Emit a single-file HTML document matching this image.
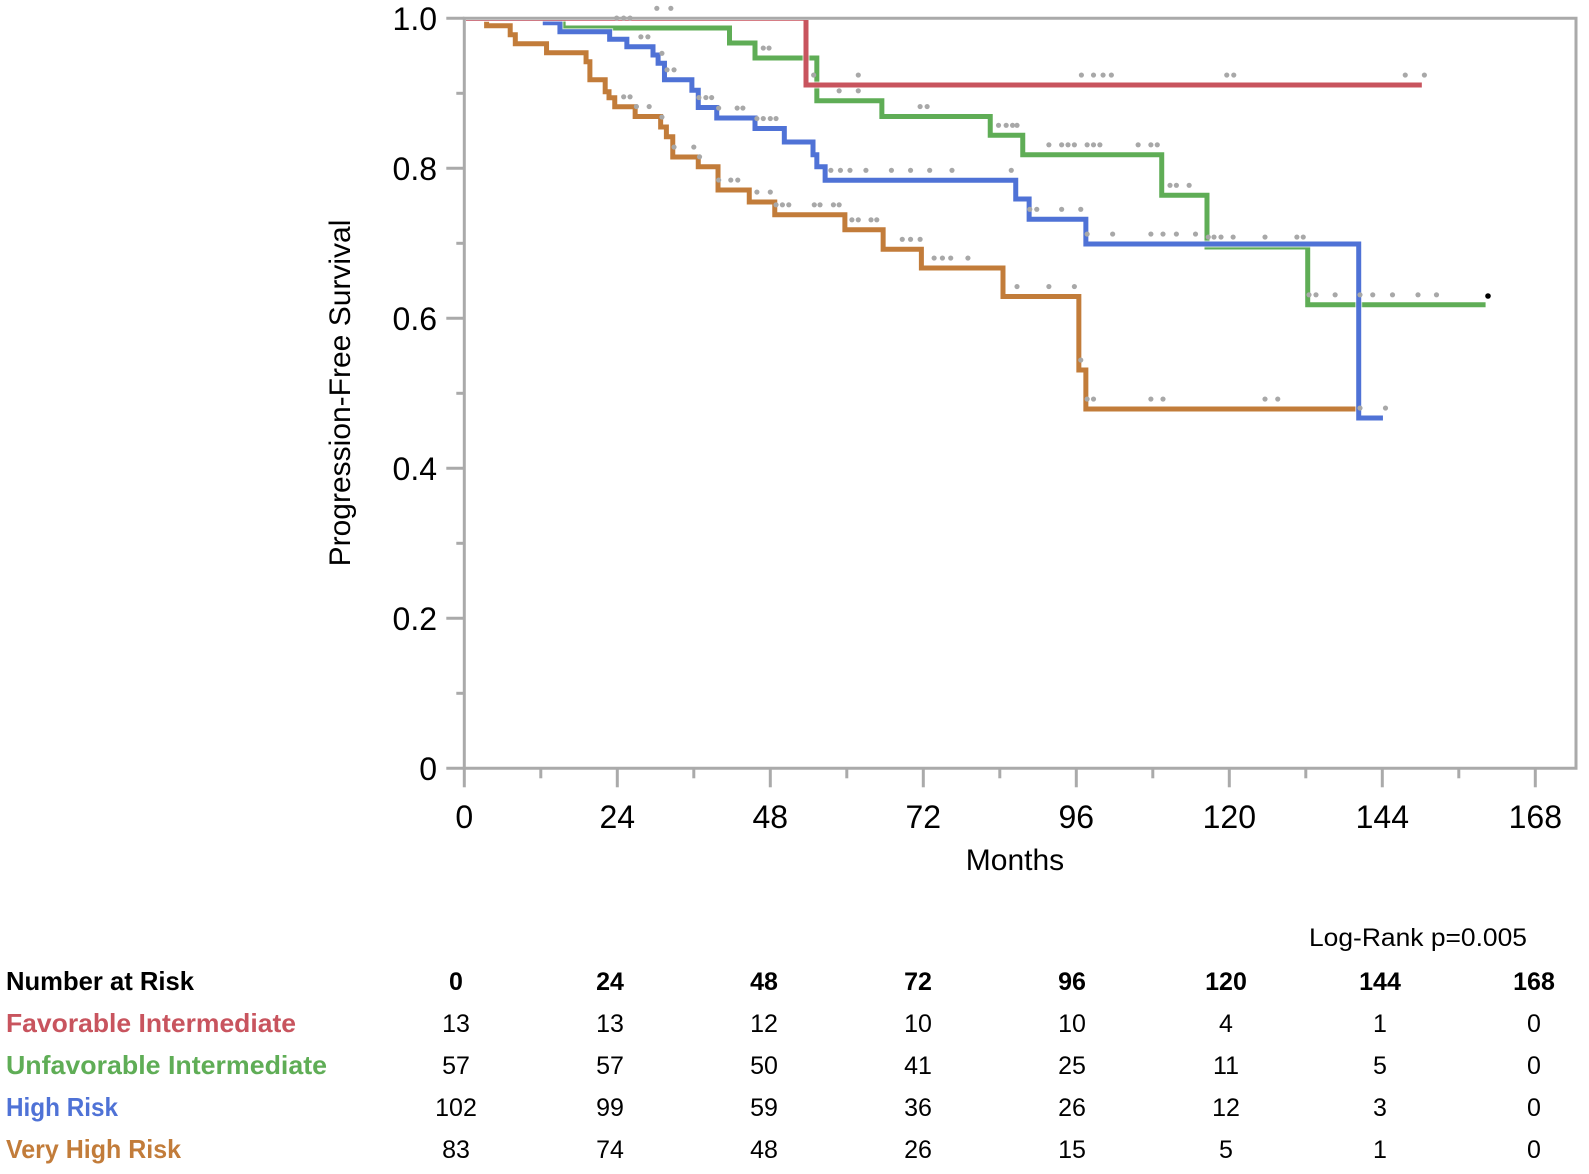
<!DOCTYPE html>
<html><head><meta charset="utf-8"><style>
html,body{margin:0;padding:0;background:#fff;}
svg{display:block;font-family:"Liberation Sans",Arial,sans-serif;}
</style></head><body>
<svg id="chart" width="1589" height="1174" viewBox="0 0 1589 1174" xmlns="http://www.w3.org/2000/svg">
<defs><clipPath id="plotclip"><rect x="466" y="20" width="1108" height="747"/></clipPath></defs>
<g id="series" clip-path="url(#plotclip)"></g>
<g id="grid"></g>
<g id="cens"></g>
<text x="0" y="0" transform="translate(350,393) rotate(-90)" text-anchor="middle" font-size="30">Progression-Free Survival</text>
<text x="1015" y="870" text-anchor="middle" font-size="30">Months</text>
<text x="1418" y="946" text-anchor="middle" font-size="25" textLength="218" lengthAdjust="spacingAndGlyphs">Log-Rank p=0.005</text>
<g id="table"></g>
</svg>
<script>
const xTicks = [0,24,48,72,96,120,144,168];
const yTicks = [0,0.2,0.4,0.6,0.8,1.0];
const yTickLabels = ["0","0.2","0.4","0.6","0.8","1.0"];
const favT = [53.6];
const favS = [0.911];
const favEnd = 150.2;
const unfT = [15.5,41.6,45.6,55.3,65.5,82.5,87.6,109.4,116.5,132.3];
const unfS = [0.987,0.967,0.947,0.890,0.869,0.844,0.818,0.764,0.695,0.618];
const unfEnd = 160.2;
const highT = [12.7,15.0,22.8,25.5,29.6,30.4,31.4,35.7,36.7,39.6,45.6,50.2,54.7,55.3,56.6,86.5,88.6,97.5,140.3];
const highS = [0.994,0.982,0.972,0.962,0.951,0.940,0.918,0.904,0.881,0.867,0.853,0.835,0.818,0.802,0.784,0.759,0.732,0.699,0.467];
const highEnd = 144.1;
const vhT = [3.5,7.2,8.0,12.9,19.1,19.7,22.1,22.7,23.6,26.8,30.8,31.7,32.7,36.7,39.8,44.7,48.7,59.7,65.7,71.7,84.5,96.4,97.5];
const vhS = [0.990,0.978,0.966,0.954,0.942,0.918,0.902,0.894,0.882,0.869,0.855,0.842,0.815,0.802,0.771,0.755,0.738,0.718,0.692,0.667,0.629,0.531,0.479];
const vhEnd = 140.3;
const favC = [30.2,32.4,54.8,61.8,96.8,98.7,100.2,101.5,119.6,120.7,147.6,150.6];
const unfC = [23.9,25,26,46.9,47.8,58.8,61.8,71.5,72.6,83.8,85,86,86.7,91.7,93.7,94.7,95.7,97.7,98.7,99.7,105.7,107.7,108.7,110.7,111.7,113.7,116.7,117.6,118.7,120.6,125.6,130.6,131.6,132.5,133.6,136.6,140.5,142.5,145.6,149.6,152.5];
const highC = [27.7,28.8,31.0,31.8,32.9,36.8,37.9,38.8,39.9,42.8,43.7,45.9,46.9,48.0,48.9,57.5,59,60.5,63,67,70,73,76.5,85.8,88.7,89.8,93.7,96.7,97.7,101.7,107.7,109.6,111.7,114.7,140.5,144.5];
const vhC = [25,26,27,29,31,32.9,36,36.9,39.9,41.8,42.9,45.9,48,48.9,49.9,50.9,54.9,55.8,57.9,58.8,60.8,61.8,63.8,64.7,68.7,70,71.5,73.7,75,76.3,79,86.7,91.7,95.7,96.7,97.7,98.7,107.7,109.6,125.6,127.6];
const groups = ["Favorable Intermediate","Unfavorable Intermediate","High Risk","Very High Risk"];
const riskFav = [13,13,12,10,10,4,1,0];
const riskUnf = [57,57,50,41,25,11,5,0];
const riskHigh = [102,99,59,36,26,12,3,0];
const riskVH = [83,74,48,26,15,5,1,0];

const NS="http://www.w3.org/2000/svg";
const X0=464.3, XS=6.375, Y0=768.3, YH=750, RIGHT=1576, TOP=18.3;
const xp = m => X0 + m*XS;
const yp = s => Y0 - s*YH;
function mk(tag, attrs, parent){const e=document.createElementNS(NS,tag);for(const k in attrs)e.setAttribute(k,attrs[k]);parent.appendChild(e);return e;}

const grid=document.getElementById('grid');
const AX="#aaaaaa";
let fr=mk('path',{d:`M${X0} ${TOP} H${RIGHT} V${Y0} H${X0} Z`,fill:'none',stroke:AX,'stroke-width':3},grid);


for(let m=0;m<=168;m+=12){
  const major = m%24===0;
  const t=mk('line',{x1:xp(m),x2:xp(m),y1:Y0,y2:Y0+(major?19:10),stroke:AX,'stroke-width':3},grid);
  
  
}
xTicks.forEach(v=>{
  const t=mk('text',{x:xp(v),y:828,'text-anchor':'middle','font-size':32},grid);
  t.textContent=v;
  
  
});
for(let i=0;i<=10;i++){
  const s=i/10, major=i%2===0;
  const t=mk('line',{x1:X0-(major?18:8),x2:X0,y1:yp(s),y2:yp(s),stroke:AX,'stroke-width':3},grid);
  
  
}
yTicks.forEach((v,i)=>{
  const t=mk('text',{x:437,y:yp(v)+11.5,'text-anchor':'end','font-size':32},grid);
  t.textContent=yTickLabels[i];
  
  
});

function valAt(T,S,m){let v=1;for(let i=0;i<T.length;i++){if(T[i]<=m)v=S[i];}return v;}
const ser=document.getElementById('series'), cens=document.getElementById('cens');
const defs=[
 {T:unfT,S:unfS,E:unfEnd,C:unfC,col:'#5fad56',n:'curve-unfavorable-intermediate'},
 {T:vhT,S:vhS,E:vhEnd,C:vhC,col:'#c27c3a',n:'curve-very-high-risk'},
 {T:highT,S:highS,E:highEnd,C:highC,col:'#4f72d6',n:'curve-high-risk'},
 {T:favT,S:favS,E:favEnd,C:favC,col:'#c8545e',n:'curve-favorable-intermediate'}
];
defs.forEach(d=>{
  let p=`M${xp(0)} ${yp(1)}`;
  d.T.forEach((t,i)=>{p+=` H${xp(t)} V${yp(d.S[i])}`;});
  p+=` H${xp(d.E)}`;
  const h=mk('path',{d:p,fill:'none',stroke:'#ffffff','stroke-opacity':0.7,'stroke-width':7},ser);
  
  
  const e=mk('path',{d:p,fill:'none',stroke:d.col,'stroke-width':5,'stroke-linejoin':'miter'},ser);
  
  
  d.C.forEach(c=>{
    const dot=mk('circle',{cx:xp(c),cy:yp(valAt(d.T,d.S,c))-10,r:2.6,fill:'#a8a8a8'},cens);
    
    
  });
});
const bd=mk('circle',{cx:1488,cy:296,r:2.8,fill:'#000'},cens);



const tb=document.getElementById('table');
const colX=[456,610,764,918,1072,1226,1380,1534];
const rowY=[990,1032,1074,1116,1158];
const labW=[188,290,321,112,175];
const labs=["Number at Risk"].concat(groups);
const labCols=['#000','#c8545e','#5fad56','#4f72d6','#c27c3a'];
labs.forEach((l,i)=>{
  const t=mk('text',{x:6,y:rowY[i],'font-size':26,'font-weight':'bold',fill:labCols[i],textLength:labW[i],lengthAdjust:'spacingAndGlyphs'},tb);
  t.textContent=l;
  
  
});
xTicks.forEach((v,j)=>{
  const t=mk('text',{x:colX[j],y:rowY[0],'text-anchor':'middle','font-size':25,'font-weight':'bold'},tb);
  t.textContent=v;
  
  
});
[riskFav,riskUnf,riskHigh,riskVH].forEach((arr,i)=>{
  arr.forEach((v,j)=>{
    const t=mk('text',{x:colX[j],y:rowY[i+1],'text-anchor':'middle','font-size':25},tb);
    t.textContent=v;
    
    
  });
});
</script>
</body></html>
